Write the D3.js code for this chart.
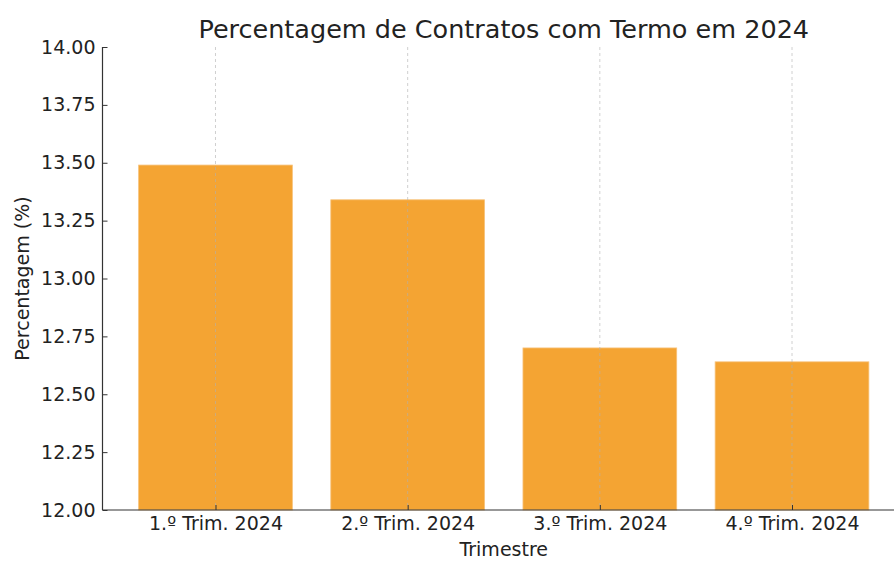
<!DOCTYPE html>
<html><head><meta charset="utf-8">
<script src="https://cdn.jsdelivr.net/npm/d3@7"></script>
<style>body{margin:0;background:#fff;overflow:hidden}svg{display:block;font-family:"DejaVu Sans",sans-serif}</style>
</head><body><svg id="c" width="894" height="566"></svg>
<script>
const categories = ["1.º Trim. 2024","2.º Trim. 2024","3.º Trim. 2024","4.º Trim. 2024"];
const values = [13.49, 13.34, 12.70, 12.64];
const yTicks = [12.00, 12.25, 12.50, 12.75, 13.00, 13.25, 13.50, 13.75, 14.00];
const title = "Percentagem de Contratos com Termo em 2024";
const xTitle = "Trimestre";
const yTitle = "Percentagem (%)";

(function(){
const svg = d3.select("#c");
const pL = 102.5, pR = 905, pT = 47, pB = 510;
const x = d3.scaleLinear().domain([-0.588, categories.length - 1 + 0.588]).range([pL, pR]);
const y = d3.scaleLinear().domain([12, 14]).range([pB, pT]);
const bw = 0.8;

svg.append("g").selectAll("rect").data(values).join("rect")
  .attr("x", (d,i) => x(i - bw/2)).attr("width", (d,i) => x(i + bw/2) - x(i - bw/2))
  .attr("y", d => y(d)).attr("height", d => y(12) - y(d))
  .attr("fill", "#f4a433").attr("stroke", "#f7c27a").attr("stroke-width", 0.8);

svg.append("g").selectAll("line").data(categories).join("line")
  .attr("x1", (d,i) => x(i)).attr("x2", (d,i) => x(i))
  .attr("y1", pT).attr("y2", pB)
  .attr("stroke", "#b0b0b0").attr("stroke-opacity", 0.6).attr("stroke-dasharray", "3,3").attr("stroke-width", 1);

const yAxis = d3.axisLeft(y).tickValues(yTicks).tickFormat(d3.format(".2f")).tickSize(-5).tickPadding(7);
const gy = svg.append("g").attr("transform", `translate(${pL},0)`).call(yAxis);
gy.select(".domain").attr("stroke", "#333").attr("stroke-width", 1.2).attr("d", `M0,${pT}V${pB}`);
gy.selectAll(".tick line").attr("stroke", "#333");
gy.selectAll("text").attr("font-size", 19).attr("fill", "#222").attr("font-family", "DejaVu Sans");

const xAxis = d3.axisBottom(x).tickValues(d3.range(categories.length)).tickFormat(i => categories[i]).tickSize(-5).tickPadding(7);
const gx = svg.append("g").attr("transform", `translate(0,${pB})`).call(xAxis);
gx.select(".domain").attr("stroke", "#333").attr("stroke-width", 1.2).attr("d", `M${pL},0H${pR}`);
gx.selectAll(".tick line").attr("stroke", "#333");
gx.selectAll("text").attr("font-size", 19).attr("fill", "#222").attr("font-family", "DejaVu Sans");

svg.append("text").attr("x", (pL+pR)/2).attr("y", 38).attr("text-anchor", "middle")
  .attr("font-size", 25.5).attr("fill", "#222").text(title);
svg.append("text").attr("x", (pL+pR)/2).attr("y", 556).attr("text-anchor", "middle")
  .attr("font-size", 19).attr("fill", "#222").text(xTitle);
svg.append("text").attr("transform", `translate(29,${(pT+pB)/2}) rotate(-90)`).attr("text-anchor", "middle")
  .attr("font-size", 19).attr("fill", "#222").text(yTitle);
})();
</script></body></html>
